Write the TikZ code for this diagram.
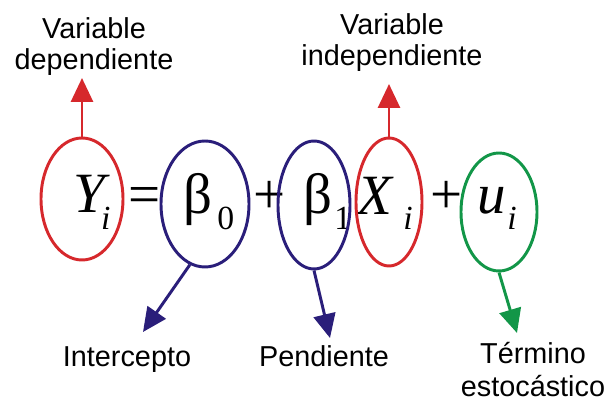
\documentclass[tikz,border=0pt]{standalone}
\usepackage{fontspec}
\setmainfont{Liberation Serif}
\newfontfamily\lblfont{Liberation Sans}
\usetikzlibrary{arrows.meta,shapes.geometric}
\definecolor{varred}{RGB}{214,40,44}
\definecolor{parblue}{RGB}{42,30,122}
\definecolor{errgreen}{RGB}{18,150,72}
\begin{document}
\begin{tikzpicture}[
  ell/.style={draw,ellipse,line width=2.1pt,inner sep=0pt},
  lbl/.style={inner sep=0pt,align=center,font=\lblfont\fontsize{20.5}{22}\selectfont},
  eqmain/.style={inner sep=0pt,anchor=base west,font=\fontsize{40.5}{44}\selectfont},
  eqsub/.style={inner sep=0pt,anchor=base west,font=\fontsize{24}{26}\selectfont},
  arr/.style={line width=2.1pt,-{Triangle[length=6mm,width=5.5mm]}}]
\useasboundingbox (0,0) rectangle (15.175,-10.025);
% equation
\node[eqmain] (nY) at (1.825,-5.325) {\itshape Y};
\node[eqsub] (nYi) at (2.52,-5.75) {\itshape i};
\node[eqmain] (neq) at (3.2,-5.35) {=};
\node[eqmain] (nb0) at (4.575,-5.35) {β};
\node[eqsub] (nb0s) at (5.425,-5.75) {0};
\node[eqmain] (npa) at (6.325,-5.35) {+};
\node[eqmain] (nb1) at (7.575,-5.35) {β};
\node[eqsub] (nb1s) at (8.35,-5.75) {1};
\node[eqmain] (nX) at (8.925,-5.375) {\itshape X};
\node[eqsub] (nXi) at (10.075,-5.75) {\itshape i};
\node[eqmain] (npb) at (10.75,-5.35) {+};
\node[eqmain] (nu) at (11.925,-5.35) {\itshape u};
\node[eqsub] (nui) at (12.675,-5.75) {\itshape i};
% ellipses
\node[ell,draw=varred,minimum width=2.05cm,minimum height=3.05cm] (ey) at (2.05,-4.975) {};
\node[ell,draw=parblue,minimum width=2.2cm,minimum height=3.15cm] (eb0) at (5.125,-5.1) {};
\node[ell,draw=parblue,minimum width=1.8cm,minimum height=3.2cm] (eb1) at (7.85,-5.125) {};
\node[ell,draw=varred,minimum width=1.65cm,minimum height=3.2cm] (ex) at (9.725,-5.05) {};
\node[ell,draw=errgreen,minimum width=1.9cm,minimum height=2.95cm] (eu) at (12.475,-5.3) {};
% labels
\node[lbl] (ldep) at (2.35,-1.175) {Variable\\dependiente};
\node[lbl] (lind) at (9.8,-1.075) {Variable\\independiente};
\node[lbl,anchor=base] (lint) at (3.175,-9.175) {Intercepto};
\node[lbl,anchor=base] (lpen) at (8.1,-9.175) {Pendiente};
\node[lbl,font=\lblfont\fontsize{20.5}{23.5}\selectfont] (lter) at (13.325,-9.25) {Término\\estocástico};
% arrow tips
\coordinate (tY) at (2.05,-1.95);
\coordinate (tX) at (9.725,-2.1);
\coordinate (tB0) at (3.575,-8.3);
\coordinate (tB1) at (8.25,-8.45);
\coordinate (tU) at (12.925,-8.325);
\draw[arr,varred] (ey.north) -- (tY);
\draw[arr,varred] (ex.north) -- (tX);
\draw[arr,parblue] (eb0.256) -- (tB0);
\draw[arr,parblue] (eb1.south) -- (tB1);
\draw[arr,errgreen] (eu.south) -- (tU);
\end{tikzpicture}
\end{document}
